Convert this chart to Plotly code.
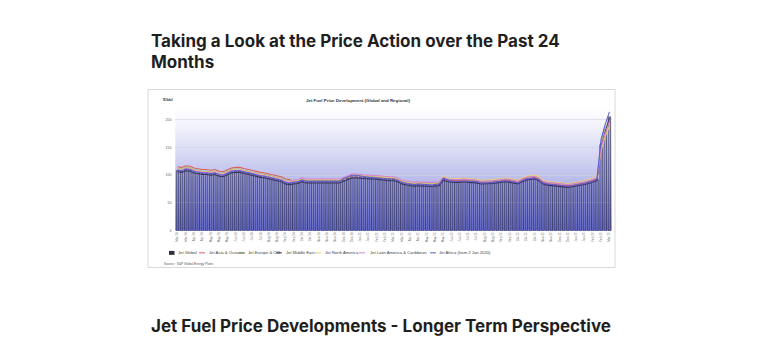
import plotly.graph_objects as go
import pandas as pd

W, H = 768, 354

# ---------------- data ----------------
weeks = pd.date_range("2024-03-08", periods=105, freq="7D")
tick_dates = list(weeks[::2])
tick_labels = [d.strftime("%b-%y") for d in tick_dates]

jet_global = [108,107,110,109,106,104,103,103,102,103,
              100,99,103,106,107,107,105,103,102,100,
              98,97,95,94,92,90,86,85,86,87,
              90,88,88,88,89,89,88,89,89,88,
              91,94,97,97,96,96,95,95,94,93,
              93,92,92,90,86,84,83,82,83,82,
              82,81,82,83,93,90,89,89,89,90,
              89,89,88,86,86,86,87,88,89,90,
              89,88,86,90,93,94,95,92,86,84,
              83,82,81,80,80,81,82,84,85,87,
              89,92,155,182,205]

jet_asia = [115,114,117,116,113,111,110,110,109,110,
            107,106,110,113,114,114,112,110,109,107,
            105,104,102,101,99,97,93,92,88,89,
            92,90,90,90,91,91,90,91,91,90,
            93,96,99,99,98,98,97,97,96,95,
            95,94,94,92,88,86,85,84,85,84,
            84,83,84,85,95,91,90,90,90,91,
            90,90,89,87,87,87,88,89,90,91,
            90,89,87,91,94,95,96,93,87,85,
            84,83,82,81,81,82,83,85,86,88,
            90,93,150,178,198]

jet_europe = [112,111,114,113,110,108,107,107,106,107,
              104,103,107,110,111,111,109,107,106,104,
              102,101,99,98,96,94,90,89,89,90,
              93,91,91,91,92,92,91,92,92,91,
              94,97,100,100,99,99,98,98,97,96,
              96,95,95,93,89,87,86,85,86,85,
              85,84,85,86,96,93,92,92,92,93,
              92,92,91,89,89,89,90,91,92,93,
              92,91,89,93,96,97,98,95,89,87,
              86,85,84,83,83,84,85,87,88,90,
              92,95,160,185,200]

jet_middle_east = [106,105,108,107,104,102,101,101,100,101,
                   98,97,101,104,105,105,103,101,100,98,
                   96,95,93,92,90,88,84,83,84,85,
                   88,86,86,86,87,87,86,87,87,86,
                   89,92,95,95,94,94,93,93,92,91,
                   91,90,90,88,84,82,81,80,81,80,
                   80,79,80,81,91,88,87,87,87,88,
                   87,87,86,84,84,84,85,86,87,88,
                   87,86,84,88,91,92,93,90,84,82,
                   81,80,79,78,78,79,80,82,83,85,
                   87,90,152,180,203]

jet_north_america = [111,110,113,112,109,107,106,106,105,106,
                     103,102,106,109,110,110,108,106,105,103,
                     101,100,98,97,95,93,89,88,90,91,
                     94,92,92,92,93,93,92,93,93,92,
                     95,98,101,101,100,100,99,99,98,97,
                     97,96,96,94,90,88,87,86,87,86,
                     86,85,86,87,98,95,94,94,94,95,
                     94,94,93,91,91,91,92,93,94,95,
                     94,93,91,95,98,99,100,97,91,89,
                     88,87,86,85,85,86,87,89,90,92,
                     94,97,145,170,188]

jet_latin_america = [110,109,112,111,108,106,105,105,104,105,
                     102,101,105,108,109,109,107,105,104,102,
                     100,99,97,96,94,92,88,87,91,92,
                     95,93,93,93,94,94,93,94,94,93,
                     96,99,102,102,101,101,100,100,99,98,
                     98,97,97,95,91,89,88,87,88,87,
                     87,86,87,88,96,93,92,92,92,93,
                     92,92,91,89,89,89,90,91,92,93,
                     92,91,89,93,96,97,98,95,89,87,
                     86,85,84,83,83,84,85,87,88,90,
                     92,95,150,176,196]

jet_africa = [109,108,111,110,107,105,104,104,103,104,
              101,100,104,107,108,108,106,104,103,101,
              99,98,96,95,93,91,87,86,87,88,
              91,89,89,89,90,90,89,90,90,89,
              94,97,100,100,98,97,96,96,95,94,
              94,93,93,91,87,85,84,83,84,83,
              83,82,83,84,94,91,89,89,89,90,
              89,89,88,86,86,86,87,88,89,90,
              89,88,86,90,93,94,95,92,86,84,
              83,82,81,80,80,81,82,84,85,87,
              89,93,165,192,214]

region_names = ["Jet Asia & Oceania", "Jet Europe & CIS", "Jet Middle East",
                "Jet North America", "Jet Latin America & Caribbean",
                "Jet Africa (from 2 Jan 2020)"]
region_values = [jet_asia, jet_europe, jet_middle_east,
                 jet_north_america, jet_latin_america, jet_africa]
region_colors = ["#d9605a", "#9fb46f", "#3a3560", "#e6d07e", "#d680cf", "#5b5bd6"]

y_ticks = [0, 50, 100, 150, 200]

# ---------------- helpers ----------------
def px(x):
    return x / W

def py(y):
    return 1 - y / H

CHART_FONT = "Liberation Sans"

fig = go.Figure()

fig.add_trace(go.Bar(
    x=weeks, y=jet_global, name="Jet Global",
    marker=dict(color="rgba(66,70,198,0.40)",
                line=dict(color="#262640", width=0.65)),
    showlegend=False,
))

for name, vals, col in zip(region_names, region_values, region_colors):
    fig.add_trace(go.Scatter(
        x=weeks, y=vals, name=name, mode="lines",
        line=dict(color=col, width=1.05), showlegend=False,
    ))

shapes = []
# card
shapes.append(dict(type="rect", xref="paper", yref="paper",
                   x0=px(148), x1=px(615), y0=py(269), y1=py(90),
                   fillcolor="white", line=dict(color="#d8d8d8", width=1),
                   layer="below"))
# gradient plot background (overlapping bands to avoid seams)
N = 60
top = (255, 255, 255)
bot = (122, 127, 216)
for k in range(N):
    t = ((k + 0.5) / N) ** 1.25
    c = tuple(int(round(top[j] + (bot[j] - top[j]) * t)) for j in range(3))
    shapes.append(dict(type="rect", xref="x domain", yref="y domain",
                       x0=0, x1=1, y0=max(0, 1 - (k + 1.6) / N), y1=1 - k / N,
                       fillcolor="rgb(%d,%d,%d)" % c, line=dict(width=0),
                       layer="below"))

annotations = []
# headings
HEAD_FONT = dict(family="Inter", size=17, color="#1f1f1f", weight="bold")
annotations.append(dict(text="Taking a Look at the Price Action over the Past 24",
                        x=px(149), y=py(41.5), xref="paper", yref="paper",
                        xanchor="left", yanchor="middle", showarrow=False,
                        font=HEAD_FONT))
annotations.append(dict(text="Months", x=px(149), y=py(62.5), xref="paper", yref="paper",
                        xanchor="left", yanchor="middle", showarrow=False,
                        font=HEAD_FONT))
annotations.append(dict(text="Jet Fuel Price Developments - Longer Term Perspective",
                        x=px(149), y=py(328), xref="paper", yref="paper",
                        xanchor="left", yanchor="middle", showarrow=False,
                        font=HEAD_FONT))
# chart title, unit, source
annotations.append(dict(text="<b>Jet Fuel Price Development (Global and Regional)</b>",
                        x=px(358), y=py(101), xref="paper", yref="paper",
                        xanchor="center", yanchor="middle", showarrow=False,
                        font=dict(family=CHART_FONT, size=4.4, color="#333")))
annotations.append(dict(text="<b>$/bbl</b>", x=px(161), y=py(100.5), xref="paper",
                        yref="paper", xanchor="left", yanchor="middle", showarrow=False,
                        font=dict(family=CHART_FONT, size=4.2, color="#444")))
annotations.append(dict(text="Source : S&P Global Energy Platts", x=px(162), y=py(265),
                        xref="paper", yref="paper", xanchor="left", yanchor="middle",
                        showarrow=False,
                        font=dict(family=CHART_FONT, size=3.2, color="#555")))

# legend (manual, compact)
LEG_Y = 254.3
LEG_FONT = dict(family=CHART_FONT, size=4.2, color="#444")
shapes.append(dict(type="rect", xref="paper", yref="paper",
                   x0=px(169), x1=px(174.5), y0=py(LEG_Y + 2), y1=py(LEG_Y - 2),
                   fillcolor="#2e2e3e", line=dict(width=0)))
annotations.append(dict(text="Jet Global", x=px(176), y=py(LEG_Y), xref="paper",
                        yref="paper", xanchor="left", yanchor="middle",
                        showarrow=False, font=LEG_FONT))
leg_pos = [(199, 207), (239, 246), (276, 283.5), (315, 323), (359, 368), (430, 437)]
for (lx, tx), name, col in zip(leg_pos, region_names, region_colors):
    shapes.append(dict(type="line", xref="paper", yref="paper",
                       x0=px(lx), x1=px(lx + 6), y0=py(LEG_Y), y1=py(LEG_Y),
                       line=dict(color=col, width=1)))
    annotations.append(dict(text=name, x=px(tx), y=py(LEG_Y), xref="paper",
                            yref="paper", xanchor="left", yanchor="middle",
                            showarrow=False, font=LEG_FONT))

x0_px, x1_px = 175.4, 611.5
y0_px, y_top_px = 232.0, 232.0 - 225 * 0.5585

fig.update_layout(
    width=W, height=H,
    margin=dict(l=0, r=0, t=0, b=0),
    paper_bgcolor="white", plot_bgcolor="rgba(0,0,0,0)",
    bargap=0.4,
    shapes=shapes, annotations=annotations,
    xaxis=dict(domain=[px(x0_px), px(x1_px)],
               range=[weeks[0] - pd.Timedelta(days=3.5), weeks[-1] + pd.Timedelta(days=3.5)],
               tickmode="array", tickvals=tick_dates, ticktext=tick_labels,
               tickangle=-90, tickfont=dict(family=CHART_FONT, size=3, color="#777"),
               showgrid=False, zeroline=False, showline=False, ticks=""),
    yaxis=dict(domain=[py(y0_px), py(y_top_px)], range=[0, 225],
               tickmode="array", tickvals=y_ticks,
               tickfont=dict(family=CHART_FONT, size=3.6, color="#666"),
               showgrid=True, gridcolor="rgba(210,210,220,0.6)", gridwidth=0.5,
               zeroline=False, showline=False, ticks="", ticklabelstandoff=3),
    font=dict(family=CHART_FONT),
)

fig.write_html("out.html")
